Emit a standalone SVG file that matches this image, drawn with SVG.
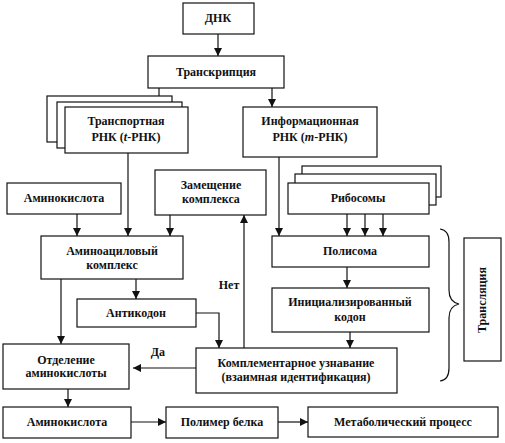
<svg xmlns="http://www.w3.org/2000/svg" width="505" height="443" viewBox="0 0 505 443">
<style>
rect{fill:#fff;stroke:#111;stroke-width:1.2}
text{font-family:"Liberation Serif","Times New Roman",serif;font-weight:bold;font-size:12px;fill:#111;text-anchor:middle}
.c line,.c polyline,.c path{stroke:#111;stroke-width:1.2;fill:none}
</style>
<defs>
<marker id="a" viewBox="0 0 10 10" refX="10" refY="5" markerWidth="8" markerHeight="8" markerUnits="userSpaceOnUse" orient="auto">
<path d="M0,0L10,5L0,10z" fill="#111"/>
</marker>
</defs>
<g class="c" id="connectors">
<line x1="218" y1="34" x2="218" y2="56" marker-end="url(#a)"/>
<line x1="159" y1="88" x2="159" y2="107" marker-end="url(#a)"/>
<line x1="272" y1="88" x2="272" y2="107" marker-end="url(#a)"/>
<line x1="128" y1="153" x2="128" y2="236" marker-end="url(#a)"/>
<line x1="279" y1="157" x2="279" y2="236" marker-end="url(#a)"/>
<line x1="77" y1="214" x2="77" y2="236" marker-end="url(#a)"/>
<line x1="170" y1="215" x2="170" y2="236" marker-end="url(#a)"/>
<line x1="347" y1="214" x2="347" y2="236" marker-end="url(#a)"/>
<line x1="365" y1="214" x2="365" y2="236" marker-end="url(#a)"/>
<line x1="383" y1="214" x2="383" y2="236" marker-end="url(#a)"/>
<line x1="347" y1="267" x2="347" y2="288" marker-end="url(#a)"/>
<line x1="350" y1="332" x2="350" y2="348" marker-end="url(#a)"/>
<line x1="61" y1="279" x2="61" y2="344" marker-end="url(#a)"/>
<line x1="136" y1="279" x2="136" y2="299" marker-end="url(#a)"/>
<polyline points="196,313 219,313 219,348" marker-end="url(#a)"/>
<line x1="244" y1="348" x2="244" y2="215" marker-end="url(#a)"/>
<line x1="196" y1="368" x2="133" y2="368" marker-end="url(#a)"/>
<line x1="68" y1="389" x2="68" y2="407" marker-end="url(#a)"/>
<line x1="131" y1="422" x2="166" y2="422" marker-end="url(#a)"/>
<line x1="278" y1="422" x2="308" y2="422" marker-end="url(#a)"/>
<path d="M440,229 Q449,230 449,242 L449,290 Q449,302 459,304 Q449,306 449,318 L449,368 Q449,380 440,381"/>
<text x="229" y="289">Нет</text>
<text x="158" y="356">Да</text>
</g>
<g id="dnk"><rect x="183" y="3" width="71" height="31"/><text x="218" y="22">ДНК</text></g>
<g id="transkripciya"><rect x="148" y="56" width="136" height="32"/><text x="216" y="76">Транскрипция</text></g>
<g id="trnk">
<rect x="47" y="96" width="125" height="46"/>
<rect x="57" y="102" width="125" height="46"/>
<rect x="65" y="107" width="123" height="46"/>
<text x="126" y="125">Транспортная</text>
<text x="126" y="141">РНК (<tspan font-style="italic">t</tspan>-РНК)</text>
</g>
<g id="mrnk"><rect x="243" y="107" width="134" height="50"/>
<text x="310" y="125">Информационная</text>
<text x="310" y="141">РНК (<tspan font-style="italic">m</tspan>-РНК)</text></g>
<g id="aminokislota1"><rect x="7" y="183" width="114" height="31"/><text x="64" y="202">Аминокислота</text></g>
<g id="zameshenie"><rect x="155" y="170" width="111" height="45"/><text x="211" y="189">Замещение</text><text x="211" y="203">комплекса</text></g>
<g id="ribosomy">
<rect x="302" y="166" width="139" height="31"/>
<rect x="295" y="174" width="141" height="31"/>
<rect x="288" y="183" width="141" height="31"/>
<text x="358" y="202">Рибосомы</text>
</g>
<g id="aminoacil"><rect x="41" y="236" width="142" height="43"/><text x="112" y="255">Аминоациловый</text><text x="112" y="269">комплекс</text></g>
<g id="polisoma"><rect x="272" y="236" width="157" height="31"/><text x="350" y="255">Полисома</text></g>
<g id="kodon"><rect x="272" y="288" width="157" height="44"/><text x="350" y="306">Инициализированный</text><text x="350" y="321">кодон</text></g>
<g id="translyaciya"><rect x="464" y="238" width="37" height="123"/><text transform="translate(486,300) rotate(-90)">Трансляция</text></g>
<g id="antikodon"><rect x="77" y="299" width="119" height="28"/><text x="136" y="317">Антикодон</text></g>
<g id="komplementarnoe"><rect x="196" y="348" width="201" height="45"/><text x="296" y="367">Комплементарное узнавание</text><text x="296" y="381">(взаимная идентификация)</text></g>
<g id="otdelenie"><rect x="3" y="344" width="126" height="45"/><text x="66" y="364">Отделение</text><text x="66" y="377">аминокислоты</text></g>
<g id="aminokislota2"><rect x="3" y="407" width="128" height="31"/><text x="67" y="426">Аминокислота</text></g>
<g id="polimer"><rect x="166" y="407" width="112" height="31"/><text x="222" y="426">Полимер белка</text></g>
<g id="metabolic"><rect x="308" y="407" width="190" height="30"/><text x="403" y="426">Метаболический процесс</text></g>
</svg>
